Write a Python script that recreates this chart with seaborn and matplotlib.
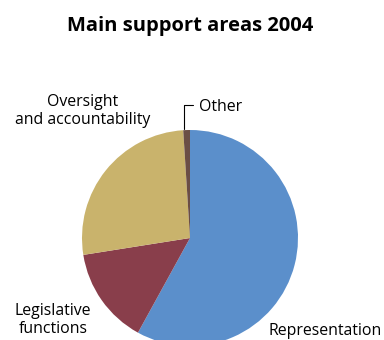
import matplotlib
matplotlib.use("Agg")
import matplotlib.pyplot as plt
import seaborn as sns

categories = ["Representation", "Legislative\nfunctions", "Oversight\nand accountability", "Other"]
values = [58.0, 14.5, 26.5, 1.0]
colors = ["#5B8FCB", "#893E4B", "#C9B36C", "#6B4E45"]

sns.set_theme(style="white")
plt.rcParams['font.family'] = ['Open Sans', 'DejaVu Sans']
plt.rcParams['text.color'] = 'black'

W, H = 384, 340
fig = plt.figure(figsize=(W / 100, H / 100), dpi=100)
cx, cy, r = 190, 238, 108
ax = fig.add_axes([(cx - r) / W, (H - cy - r) / H, 2 * r / W, 2 * r / H])
ax.pie(values, colors=colors, startangle=90, counterclock=False,
       wedgeprops=dict(linewidth=0), radius=1.0)
ax.set_xlim(-1, 1)
ax.set_ylim(-1, 1)
ax.set_aspect('equal')
ax.axis('off')

def d(px, py):
    return (px - cx) / r, (cy - py) / r

fs = 11.4
x, y = d(268, 331)
ax.text(x, y, categories[0], ha='left', va='center', fontsize=fs, color='black', clip_on=False)
x, y = d(53, 320)
ax.text(x, y, categories[1], ha='center', va='center', fontsize=fs, linespacing=1.2,
        color='black', clip_on=False)
x, y = d(83, 111)
ax.text(x, y, categories[2], ha='center', va='center', fontsize=fs, linespacing=1.2,
        color='black', clip_on=False)
x, y = d(199, 107)
ax.text(x, y, categories[3], ha='left', va='center', fontsize=fs, color='black', clip_on=False)

x0, y0 = d(184.3, 129)
x1, y1 = d(184.3, 105)
x2, _ = d(192.5, 105)
ax.plot([x0, x1, x2], [y0, y1, y1], color='black', lw=0.8, clip_on=False)

fig.text(cx / W, 1 - 26 / H, "Main support areas 2004", ha='center', va='center',
         fontsize=14.5, fontweight='bold', color='black')

fig.savefig("out.png", dpi=100)
